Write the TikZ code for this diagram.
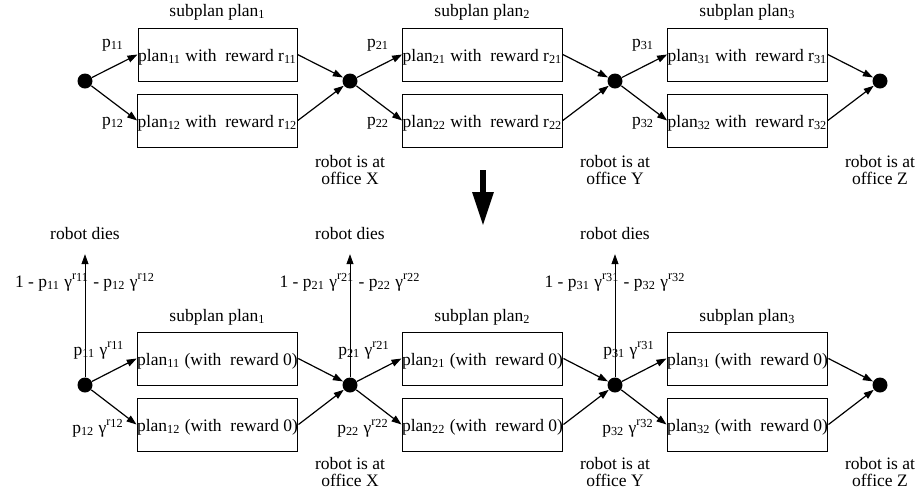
\documentclass[tikz,border=0pt]{standalone}
\usepackage{fontspec}
\setmainfont{Liberation Serif}
\usetikzlibrary{arrows.meta,positioning}

\newcommand{\gr}[1]{γ\textsuperscript{r\raisebox{-0.35ex}{#1}}}

\tikzset{
  plan/.style={draw, line width=0.5pt, minimum width=79.5pt, minimum height=26.5pt, inner sep=0pt, text height=8pt, text depth=1pt},
  state/.style={circle, fill=black, minimum size=7.5pt, inner sep=0pt},
  arr/.style={line width=0.6pt, -{Triangle[length=5pt,width=3.5pt]}},
  dies/.style={line width=0.4pt, -{Triangle[length=5pt,width=3.5pt]}, shorten >=3.5pt},
}

\begin{document}
\begin{tikzpicture}[x=0.5pt, y=-0.5pt, every node/.style={font=\fontsize{8.75}{8.4}\selectfont}]
			\useasboundingbox (0,0) rectangle (918,495);
			
			%%%%% WITH REWARDS %%%%%
			
			\node[state] (t1) at (85,81) {};
			\node[state] (t2) at (350,81) {};
			\node[state] (t3) at (615,81) {};
			\node[state] (t4) at (880,81) {};
			
			\node[plan] (a11) at (217.5,54.5) {plan\textsubscript{11} with\ \ reward r\textsubscript{11}};
			\node[plan] (a12) at (217.5,120.5) {plan\textsubscript{12} with\ \ reward r\textsubscript{12}};
			\node[plan] (a21) at (482.5,54.5) {plan\textsubscript{21} with\ \ reward r\textsubscript{21}};
			\node[plan] (a22) at (482.5,120.5) {plan\textsubscript{22} with\ \ reward r\textsubscript{22}};
			\node[plan] (a31) at (747.5,54.5) {plan\textsubscript{31} with\ \ reward r\textsubscript{31}};
			\node[plan] (a32) at (747.5,120.5) {plan\textsubscript{32} with\ \ reward r\textsubscript{32}};
			
			\node (sa1) at (217.5,12) {subplan plan\textsubscript{1}};
			\node (sa2) at (482.5,12) {subplan plan\textsubscript{2}};
			\node (sa3) at (747.5,12) {subplan plan\textsubscript{3}};
			
			\node (pa11) at (113,45) {p\textsubscript{11}};
			\node (pa12) at (113,123) {p\textsubscript{12}};
			\node (pa21) at (378,45) {p\textsubscript{21}};
			\node (pa22) at (378,123) {p\textsubscript{22}};
			\node (pa31) at (643,45) {p\textsubscript{31}};
			\node (pa32) at (643,123) {p\textsubscript{32}};
			
			\draw[arr] (t1) -- (a11.west);
			\draw[arr] (t1) -- (a12.west);
			\draw[arr] (a11.east) -- (t2);
			\draw[arr] (a12.east) -- (t2);
			\draw[arr] (t2) -- (a21.west);
			\draw[arr] (t2) -- (a22.west);
			\draw[arr] (a21.east) -- (t3);
			\draw[arr] (a22.east) -- (t3);
			\draw[arr] (t3) -- (a31.west);
			\draw[arr] (t3) -- (a32.west);
			\draw[arr] (a31.east) -- (t4);
			\draw[arr] (a32.east) -- (t4);
			
			\node[align=center] (xa) at (350,170) {robot is at\\office X};
			\node[align=center] (ya) at (615,170) {robot is at\\office Y};
			\node[align=center] (za) at (880,170) {robot is at\\office Z};
			
			%%%%% TURNED INTO %%%%%
			
			\coordinate (from) at (483,170);
			\coordinate (to) at (483,226);
			\draw[line width=3pt, -{Triangle[length=17pt,width=10pt]}] (from) -- (to);
			
			%%%%% WITHOUT REWARDS %%%%%
			
			\node[state] (u1) at (85,385) {};
			\node[state] (u2) at (350,385) {};
			\node[state] (u3) at (615,385) {};
			\node[state] (u4) at (880,385) {};
			
			\node[plan] (b11) at (217.5,358.5) {plan\textsubscript{11} (with\ \ reward 0)};
			\node[plan] (b12) at (217.5,424.5) {plan\textsubscript{12} (with\ \ reward 0)};
			\node[plan] (b21) at (482.5,358.5) {plan\textsubscript{21} (with\ \ reward 0)};
			\node[plan] (b22) at (482.5,424.5) {plan\textsubscript{22} (with\ \ reward 0)};
			\node[plan] (b31) at (747.5,358.5) {plan\textsubscript{31} (with\ \ reward 0)};
			\node[plan] (b32) at (747.5,424.5) {plan\textsubscript{32} (with\ \ reward 0)};
			
			\node (sb1) at (217.5,317) {subplan plan\textsubscript{1}};
			\node (sb2) at (482.5,317) {subplan plan\textsubscript{2}};
			\node (sb3) at (747.5,317) {subplan plan\textsubscript{3}};
			
			\node (pb11) at (99,350) {p\textsubscript{11} \gr{11}};
			\node (pb12) at (98,428) {p\textsubscript{12} \gr{12}};
			\node (pb21) at (364,350) {p\textsubscript{21} \gr{21}};
			\node (pb22) at (363,428) {p\textsubscript{22} \gr{22}};
			\node (pb31) at (629,350) {p\textsubscript{31} \gr{31}};
			\node (pb32) at (628,428) {p\textsubscript{32} \gr{32}};
			
			\node (rest1) at (85,282) {1 - p\textsubscript{11} \gr{11} - p\textsubscript{12} \gr{12}};
			\node (rest2) at (350,282) {1 - p\textsubscript{21} \gr{21} - p\textsubscript{22} \gr{22}};
			\node (rest3) at (615,282) {1 - p\textsubscript{31} \gr{31} - p\textsubscript{32} \gr{32}};
			
			\node (die1) at (85,234) {robot dies};
			\node (die2) at (350,234) {robot dies};
			\node (die3) at (615,234) {robot dies};
			
			\draw[dies] (u1) -- (die1);
			\draw[dies] (u2) -- (die2);
			\draw[dies] (u3) -- (die3);
			
			\draw[arr] (u1) -- (b11.west);
			\draw[arr] (u1) -- (b12.west);
			\draw[arr] (b11.east) -- (u2);
			\draw[arr] (b12.east) -- (u2);
			\draw[arr] (u2) -- (b21.west);
			\draw[arr] (u2) -- (b22.west);
			\draw[arr] (b21.east) -- (u3);
			\draw[arr] (b22.east) -- (u3);
			\draw[arr] (u3) -- (b31.west);
			\draw[arr] (u3) -- (b32.west);
			\draw[arr] (b31.east) -- (u4);
			\draw[arr] (b32.east) -- (u4);
			
			\node[align=center] (xb) at (350,472) {robot is at\\office X};
			\node[align=center] (yb) at (615,472) {robot is at\\office Y};
			\node[align=center] (zb) at (880,472) {robot is at\\office Z};
			
		\end{tikzpicture}
\end{document}
